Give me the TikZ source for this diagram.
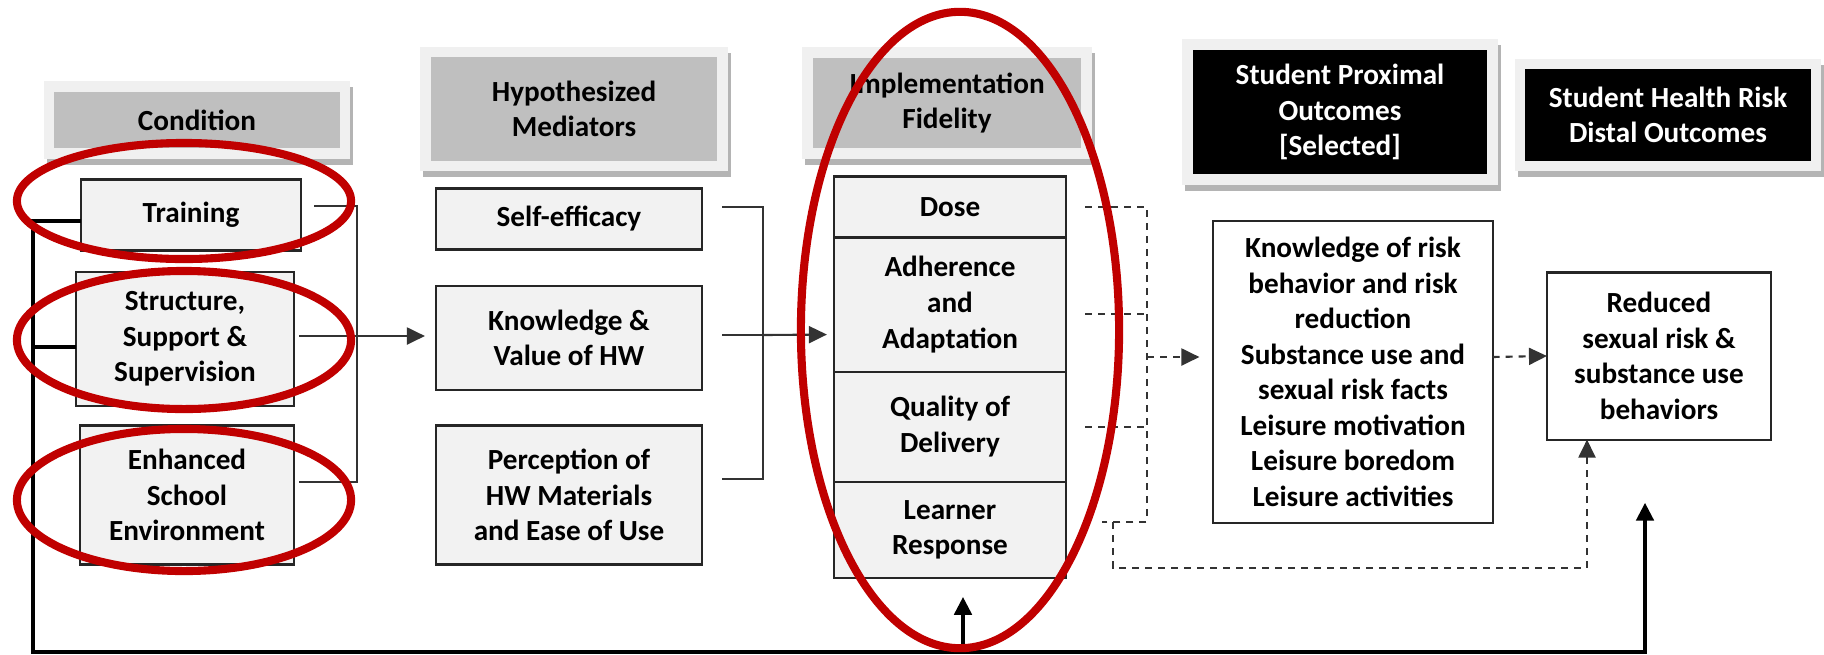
\documentclass[tikz,border=0pt]{standalone}
\usepackage{fontspec}
\setmainfont{Carlito}
\usetikzlibrary{positioning,arrows.meta}

\definecolor{boxfill}{HTML}{F2F2F2}
\definecolor{hdrgray}{HTML}{BFBFBF}
\definecolor{framegray}{HTML}{F0F0F0}
\definecolor{shadowgray}{HTML}{B4B4B4}
\definecolor{ringred}{HTML}{C00000}
\definecolor{linkgray}{HTML}{333333}

\tikzset{
  txt/.style={align=center, font=\fontsize{8.3}{10.1}\selectfont\bfseries},
  box/.style={txt, draw=black!85, line width=0.6pt, fill=boxfill, outer sep=0pt, inner sep=1pt},
  outbox/.style={box, fill=white},
  hdr/.style={txt, fill=hdrgray, inner sep=1pt,
    preaction={draw=shadowgray, line width=0.21cm,
      transform canvas={shift={(0.03cm,-0.06cm)}}},
    preaction={draw=framegray, line width=0.21cm}},
  hdrdark/.style={hdr, fill=black, text=white},
  link/.style={draw=linkgray, line width=0.6pt},
  dlink/.style={link, dash pattern=on 0.07cm off 0.06cm},
  fb/.style={draw=black, line width=1.4pt},
  ring/.style={draw=ringred, line width=2.3pt},
}

\begin{document}
\begin{tikzpicture}[x=0.01cm, y=-0.01cm, >={Triangle[length=0.18cm,width=0.17cm]}]
  \useasboundingbox (0,0) rectangle (1824,654);

  %--- column headers -------------------------------------------------------
  \node[hdr, minimum width=2.85cm, minimum height=0.56cm] (hcond) at (197,120) {Condition};
  \node[hdr, minimum width=2.86cm, minimum height=1.03cm] (hmed) at (574,109) {Hypothesized\\Mediators};
  \node[hdr, minimum width=2.68cm, minimum height=0.90cm] (hfid) at (947,103) {Implementation\\Fidelity};
  \node[hdrdark, minimum width=2.94cm, minimum height=1.24cm] (hprox) at (1340,112) {Student Proximal\\Outcomes\\{[Selected]}};
  \node[hdrdark, minimum width=2.85cm, minimum height=0.91cm] (hdist) at (1668,115) {Student Health Risk\\Distal Outcomes};

  %--- condition -----------------------------------------------------------
  \node[box, minimum width=2.20cm, minimum height=0.71cm] (train) at (191,215) {Training};
  \node[box, minimum width=2.18cm, minimum height=1.34cm] (struct) at (185,339) {Structure,\\Support \&\\Supervision};
  \node[box, minimum width=2.13cm, minimum height=1.39cm] (envr) at (187,495) {Enhanced\\School\\Environment};

  %--- mediators -----------------------------------------------------------
  \node[box, minimum width=2.66cm, minimum height=0.61cm] (selfeff) at (569,219) {Self-efficacy};
  \node[box, minimum width=2.66cm, minimum height=1.04cm] (kv) at (569,338) {Knowledge \&\\Value of HW};
  \node[box, minimum width=2.66cm, minimum height=1.39cm] (percep) at (569,495) {Perception of\\HW Materials\\and Ease of Use};

  %--- fidelity stack ------------------------------------------------------
  \node[box, minimum width=2.32cm, minimum height=0.61cm] (dose) at (950,207) {Dose};
  \node[box, minimum width=2.32cm, minimum height=1.34cm, below=0pt of dose] (adhere) {Adherence\\and\\Adaptation};
  \node[box, minimum width=2.32cm, minimum height=1.10cm, below=0pt of adhere] (quality) {Quality of\\Delivery};
  \node[box, minimum width=2.32cm, minimum height=0.96cm, below=0pt of quality] (learner) {Learner\\Response};

  %--- outcomes ------------------------------------------------------------
  \node[outbox, minimum width=2.79cm, minimum height=3.01cm] (proxbox) at (1353,372)
    {Knowledge of risk\\behavior and risk\\reduction\\Substance use and\\sexual risk facts\\Leisure motivation\\Leisure boredom\\Leisure activities};
  \node[outbox, minimum width=2.24cm, minimum height=1.67cm] (distbox) at (1659,356)
    {Reduced\\sexual risk \&\\substance use\\behaviors};

  %--- condition -> mediators -> fidelity ----------------------------------
  \coordinate (jc) at (357,336);
  \coordinate (jm) at (763,335);
  \draw[link] ([shift={(13,-9)}]train.east) -| (jc) |- ([shift={(5,-13)}]envr.east);
  \draw[link] ([shift={(5,-3)}]struct.east) -- (jc);
  \draw[link,->] (jc) -- ([shift={(-11,-2)}]kv.west);
  \draw[link] ([shift={(20,-12)}]selfeff.east) -| (jm) |- ([shift={(20,-16)}]percep.east);
  \draw[link] ([shift={(20,-3)}]kv.east) -- (jm);
  \draw[link,->] (jm) -- ([shift={(-7,30)}]adhere.west);

  %--- fidelity -> outcomes (dashed) ---------------------------------------
  \coordinate (jf) at (1147,357);
  \coordinate (jl) at (1113,522);
  \coordinate (jd) at (1587,568);
  \draw[dlink] ([xshift=0.19cm]dose.east) -| (jf) |- ([shift={(36,-8)}]learner.east);
  \draw[dlink] ([shift={(19,9)}]adhere.east) -- ([shift={(81,9)}]adhere.east);
  \draw[dlink] ([xshift=0.19cm]quality.east) -- (quality.east -| jf);
  \draw[dlink,->] (jf) -- ([xshift=-0.14cm]jf -| proxbox.west);
  \draw[dlink,->] (jl) |- (jd) -- (jd |- distbox.south);
  \draw[dlink,->] ([yshift=0.15cm]proxbox.east) -- (distbox.west);

  %--- thick feedback line along the bottom --------------------------------
  \coordinate (fbbot) at (33,652);
  \coordinate (fbfid) at (963,652);
  \coordinate (fbout) at (1645,652);
  \draw[fb] ([shift={(0,8)}]struct.west) -- ++(-43,0);
  \draw[fb,->] ([shift={(0,6)}]train.west) -| (fbbot) -- (fbout) -- ([yshift=-0.63cm]fbout |- distbox.south);
  \draw[fb,->] (fbfid) -- ([yshift=-0.19cm]fbfid |- learner.south);

  %--- highlight rings -----------------------------------------------------
  \draw[ring] (184,201) ellipse [x radius=1.67cm, y radius=0.58cm];
  \draw[ring] (184,340) ellipse [x radius=1.67cm, y radius=0.69cm];
  \draw[ring] (184,500) ellipse [x radius=1.67cm, y radius=0.71cm];
  \draw[ring] (960,330) ellipse [x radius=1.59cm, y radius=3.18cm];
\end{tikzpicture}
\end{document}
